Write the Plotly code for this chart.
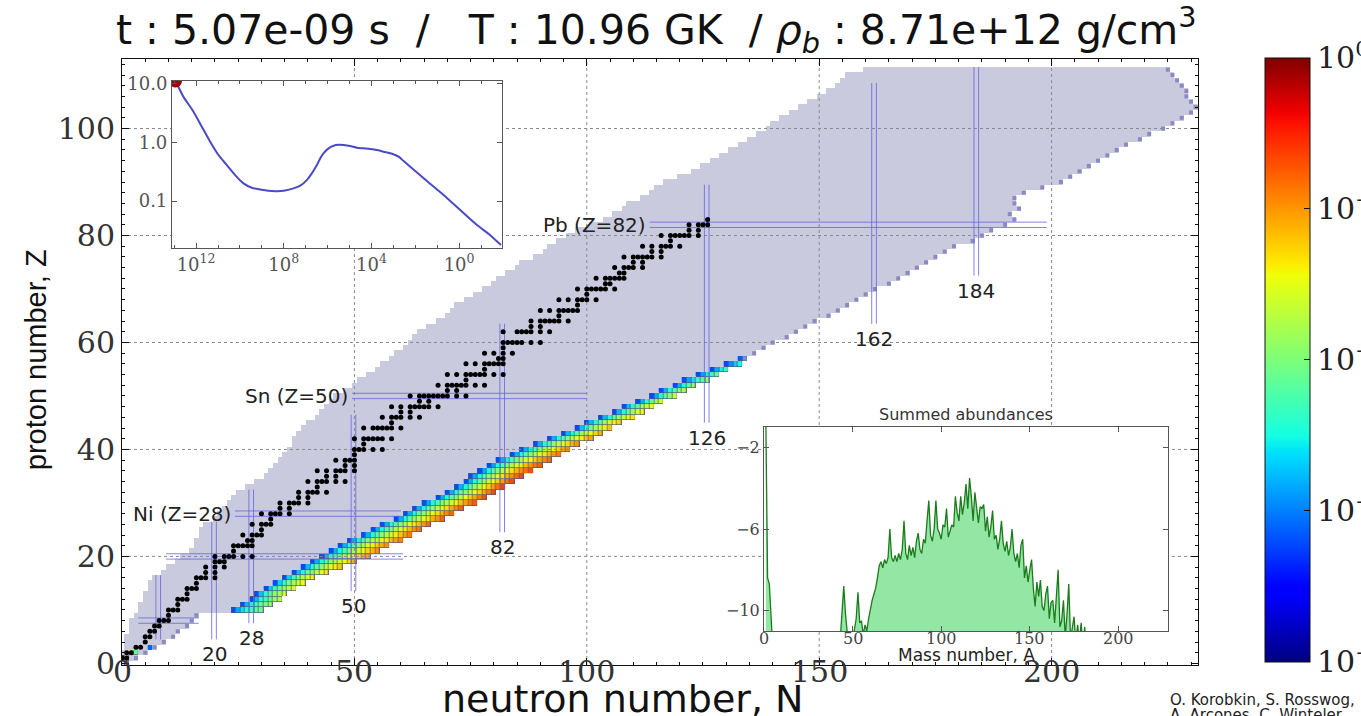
import numpy as np
import plotly.graph_objects as go

# ---------------- network extent on the nuclide chart (per proton number Z) ----------------
Z_ROWS = list(range(112))
N_MIN = [0, 0, 0, 1, 1, 1, 2, 2, 2, 3,
         4, 4, 5, 5, 6, 6, 7, 9, 10, 12,
         13, 15, 16, 16, 17, 17, 18, 20, 21, 22,
         23, 24, 25, 27, 29, 31, 32, 33, 34, 35,
         36, 37, 37, 38, 39, 40, 42, 43, 44, 45,
         46, 48, 50, 51, 53, 55, 56, 58, 59, 61,
         62, 63, 64, 66, 68, 70, 71, 72, 74, 76,
         78, 80, 81, 83, 85, 86, 89, 91, 92, 94,
         96, 98, 101, 104, 106, 108, 109, 112, 114, 115,
         117, 120, 123, 125, 127, 129, 131, 133, 135, 137,
         139, 140, 142, 144, 146, 148, 150, 152, 154, 155,
         156, 160]
N_MAX = [1, 3, 5, 7, 9, 11, 12, 14, 15, 16,
         30, 32, 34, 35, 37, 39, 41, 44, 47, 50,
         53, 55, 57, 60, 62, 64, 66, 69, 71, 73,
         76, 78, 80, 82, 84, 86, 88, 90, 92, 94,
         96, 98, 101, 103, 105, 107, 110, 112, 114, 116,
         119, 121, 123, 126, 128, 130, 133, 134, 136, 138,
         140, 143, 145, 147, 149, 152, 154, 156, 158, 160,
         162, 165, 167, 169, 171, 173, 175, 177, 179, 183,
         185, 187, 190, 192, 191, 193, 192, 192, 194, 198,
         202, 204, 206, 208, 210, 212, 214, 216, 219, 221,
         224, 226, 228, 230, 231, 230, 229, 229, 228, 227,
         226, 225]
# proton numbers whose neutron-rich edge is marked with a small square
DRIP_Z = [0, 1, 2, 3, 4, 5, 6, 7, 8, 9] + list(range(57, 112))

# ---------------- log10 abundance along each populated row: Z -> (first N, values) ----------------
ABUND_ROWS = {
    10: (24, [-9.6, -8.5, -7.8, -7.3, -6.9, -6.5, -6.2]),
    11: (26, [-9.6, -8.4, -7.6, -7.0, -6.5, -6.1, -5.7]),
    12: (28, [-9.6, -8.3, -7.4, -6.8, -6.2, -5.7, -5.3]),
    13: (29, [-9.6, -8.2, -7.2, -6.5, -5.9, -5.4, -4.9]),
    14: (31, [-9.6, -8.1, -7.1, -6.3, -5.7, -5.1, -4.6]),
    15: (33, [-9.6, -8.0, -7.0, -6.2, -5.5, -4.9, -4.4]),
    16: (35, [-9.6, -8.0, -6.9, -6.1, -5.4, -4.8, -4.2]),
    17: (37, [-9.6, -8.2, -7.2, -6.4, -5.7, -5.1, -4.5, -4.0]),
    18: (39, [-9.6, -8.3, -7.3, -6.5, -5.8, -5.2, -4.6, -4.1, -3.7]),
    19: (41, [-9.6, -8.4, -7.4, -6.6, -5.9, -5.3, -4.8, -4.3, -3.8, -3.4]),
    20: (43, [-9.6, -8.4, -7.5, -6.7, -6.0, -5.4, -4.9, -4.4, -3.9, -3.5, -3.1]),
    21: (45, [-9.6, -8.4, -7.5, -6.7, -6.0, -5.4, -4.8, -4.3, -3.8, -3.4, -3.0]),
    22: (47, [-9.6, -8.4, -7.4, -6.6, -5.9, -5.3, -4.7, -4.2, -3.7, -3.3, -2.9]),
    23: (49, [-9.6, -8.5, -7.6, -6.8, -6.1, -5.5, -5.0, -4.5, -4.0, -3.5, -3.1, -2.8]),
    24: (52, [-9.6, -8.4, -7.4, -6.6, -5.9, -5.3, -4.7, -4.1, -3.6, -3.1, -2.7]),
    25: (54, [-9.6, -8.4, -7.4, -6.6, -5.9, -5.3, -4.7, -4.1, -3.5, -3.0, -2.6]),
    26: (56, [-9.6, -8.4, -7.4, -6.6, -5.9, -5.2, -4.6, -4.0, -3.5, -3.0, -2.5]),
    27: (59, [-9.6, -8.4, -7.4, -6.6, -5.8, -5.2, -4.6, -4.0, -3.4, -2.9, -2.4]),
    28: (61, [-9.6, -8.4, -7.4, -6.5, -5.8, -5.1, -4.5, -3.9, -3.4, -2.8, -2.4]),
    29: (63, [-9.6, -8.4, -7.4, -6.5, -5.8, -5.1, -4.5, -3.9, -3.3, -2.8, -2.3]),
    30: (65, [-9.6, -8.5, -7.5, -6.7, -6.0, -5.4, -4.8, -4.2, -3.6, -3.1, -2.6, -2.2]),
    31: (68, [-9.6, -8.4, -7.4, -6.5, -5.8, -5.1, -4.4, -3.8, -3.2, -2.6, -2.1]),
    32: (70, [-9.6, -8.4, -7.4, -6.5, -5.8, -5.1, -4.4, -3.8, -3.2, -2.6, -2.0]),
    33: (72, [-9.6, -8.4, -7.4, -6.5, -5.7, -5.0, -4.4, -3.7, -3.1, -2.5, -1.9]),
    34: (74, [-9.6, -8.4, -7.4, -6.5, -5.7, -5.0, -4.3, -3.7, -3.1, -2.5, -2.0]),
    35: (75, [-9.6, -8.5, -7.5, -6.7, -5.9, -5.2, -4.6, -4.0, -3.4, -2.9, -2.4, -2.0]),
    36: (77, [-9.6, -8.5, -7.5, -6.7, -5.9, -5.2, -4.6, -4.0, -3.4, -2.9, -2.5, -2.1]),
    37: (79, [-9.6, -8.5, -7.5, -6.7, -6.0, -5.3, -4.7, -4.1, -3.5, -3.0, -2.6, -2.3]),
    38: (81, [-9.6, -8.5, -7.6, -6.8, -6.0, -5.4, -4.8, -4.2, -3.7, -3.2, -2.8, -2.5]),
    39: (84, [-9.6, -8.4, -7.4, -6.6, -5.9, -5.2, -4.6, -4.0, -3.5, -3.0, -2.7]),
    40: (86, [-9.6, -8.4, -7.5, -6.7, -6.0, -5.3, -4.7, -4.2, -3.7, -3.2, -2.9]),
    41: (89, [-9.6, -8.4, -7.4, -6.6, -5.8, -5.1, -4.5, -3.9, -3.4, -3.0]),
    42: (92, [-9.6, -8.4, -7.4, -6.6, -5.9, -5.2, -4.6, -4.1, -3.6, -3.2]),
    43: (95, [-9.6, -8.3, -7.3, -6.5, -5.7, -5.0, -4.4, -3.8, -3.4]),
    44: (98, [-9.6, -8.2, -7.2, -6.3, -5.5, -4.8, -4.2, -3.6]),
    45: (100, [-9.6, -8.3, -7.3, -6.4, -5.6, -4.9, -4.3, -3.8]),
    46: (103, [-9.6, -8.3, -7.3, -6.5, -5.7, -5.0, -4.5, -4.0]),
    47: (106, [-9.6, -8.3, -7.2, -6.3, -5.5, -4.8, -4.3]),
    48: (108, [-9.6, -8.3, -7.3, -6.4, -5.6, -5.0, -4.5]),
    49: (111, [-9.6, -8.3, -7.2, -6.3, -5.5, -4.8]),
    50: (114, [-9.6, -8.4, -7.4, -6.5, -5.7, -5.0]),
    51: (116, [-9.6, -8.4, -7.4, -6.6, -5.9, -5.3]),
    52: (119, [-9.6, -8.4, -7.4, -6.5, -5.7]),
    53: (121, [-9.6, -8.6, -7.8, -7.0, -6.4, -5.9]),
    54: (124, [-9.6, -8.6, -7.7, -7.0, -6.4]),
    55: (127, [-9.6, -8.5, -7.6, -6.9]),
    56: (130, [-9.6, -8.8, -8.1, -7.5]),
    57: (133, [-9.4, -8.6]),
}
# light nuclei (free nucleons and a few light species)
LIGHT_N = [1, 0, 1, 2, 3, 6]
LIGHT_Z = [0, 1, 1, 2, 2, 3]
LIGHT_LOGY = [-0.3, -0.8, -4.5, -5.5, -6.5, -9.3]

# ---------------- stable nuclides: Z -> neutron numbers ----------------
STABLE = {
    1: [0, 1], 2: [1, 2], 3: [3, 4], 4: [5], 5: [5, 6], 6: [6, 7], 7: [7, 8], 8: [8, 9, 10],
    9: [10], 10: [10, 11, 12], 11: [12], 12: [12, 13, 14], 13: [14], 14: [14, 15, 16],
    15: [16], 16: [16, 17, 18, 20], 17: [18, 20], 18: [18, 20, 22], 19: [20, 21, 22],
    20: [20, 22, 23, 24, 26, 28], 21: [24], 22: [24, 25, 26, 27, 28], 23: [27, 28],
    24: [26, 28, 29, 30], 25: [30], 26: [28, 30, 31, 32], 27: [32], 28: [30, 32, 33, 34, 36],
    29: [34, 36], 30: [34, 36, 37, 38, 40], 31: [38, 40], 32: [38, 40, 41, 42, 44], 33: [42],
    34: [40, 42, 43, 44, 46, 48], 35: [44, 46], 36: [42, 44, 46, 47, 48, 50], 37: [48, 50],
    38: [46, 48, 49, 50], 39: [50], 40: [50, 51, 52, 54, 56], 41: [52],
    42: [50, 52, 53, 54, 55, 56, 58], 44: [52, 54, 55, 56, 57, 58, 60], 45: [58],
    46: [56, 58, 59, 60, 62, 64], 47: [60, 62], 48: [58, 60, 62, 63, 64, 65, 66, 68],
    49: [64, 66], 50: [62, 64, 65, 66, 67, 68, 69, 70, 72, 74], 51: [70, 72],
    52: [68, 70, 71, 72, 73, 74, 76, 78], 53: [74], 54: [70, 72, 74, 75, 76, 77, 78, 80, 82],
    55: [78], 56: [74, 76, 78, 79, 80, 81, 82], 57: [81, 82], 58: [78, 80, 82, 84], 59: [82],
    60: [82, 83, 84, 85, 86, 88, 90], 62: [82, 85, 86, 87, 88, 90, 92], 63: [88, 90],
    64: [88, 90, 91, 92, 93, 94, 96], 65: [94], 66: [90, 92, 94, 95, 96, 97, 98], 67: [98],
    68: [94, 96, 98, 99, 100, 102], 69: [100], 70: [98, 100, 101, 102, 103, 104, 106],
    71: [104, 105], 72: [102, 104, 105, 106, 107, 108], 73: [107, 108],
    74: [106, 108, 109, 110, 112], 75: [110, 112], 76: [108, 110, 111, 112, 113, 114, 116],
    77: [114, 116], 78: [112, 114, 116, 117, 118, 120], 79: [118],
    80: [116, 118, 119, 120, 121, 122, 124], 81: [122, 124], 82: [122, 124, 125, 126], 83: [126],
}

# ---------------- magic numbers ----------------
MAGIC_N = [8, 20, 28, 50, 82, 126, 162, 184]
MAGIC_N_ZLO = [4.5, 4.5, 7.5, 13.5, 24.5, 45.0, 63.5, 72.5]
MAGIC_N_ZHI = [16.5, 26.5, 32.5, 46.5, 63.5, 89.5, 108.5, 111.5]
MAGIC_N_SHOWN = [False, True, True, True, True, True, True, True]
MAGIC_Z = [8, 20, 28, 50, 82]
MAGIC_Z_NLO = [3.5, 9.5, 24.3, 49.5, 113.5]
MAGIC_Z_NHI = [16.5, 60.5, 60.0, 100.0, 199.0]
MAGIC_Z_ELEMENT = [None, None, "Ni", "Sn", "Pb"]

# ---------------- thermodynamic trajectory (inset): log10 density, temperature [GK] ----------------
TRAJ_LOGRHO = [12.94, 12.58, 12.12, 11.74, 11.36, 10.98, 10.60, 10.22, 9.84, 9.46, 9.08,
               8.70, 8.32, 7.94, 7.56, 7.25, 6.95, 6.72, 6.49, 6.34, 6.19, 5.96, 5.73,
               5.50, 5.27, 4.97, 4.66, 4.36, 4.05, 3.75, 3.45, 3.06, 2.76, 2.53, 2.23,
               1.47, 0.71, -0.05, -0.82, -1.42, -1.91]
TRAJ_T = [10.96, 5.93, 3.30, 1.83, 1.02, 0.607, 0.410, 0.277, 0.200, 0.169, 0.158,
          0.150, 0.148, 0.152, 0.165, 0.183, 0.228, 0.296, 0.410, 0.532, 0.647, 0.787, 0.873,
          0.908, 0.896, 0.861, 0.807, 0.787, 0.768, 0.738, 0.691, 0.639, 0.568, 0.479, 0.384,
          0.219, 0.127, 0.0707, 0.0393, 0.0265, 0.0180]
NOW_LOGRHO = 12.94
NOW_T = 10.96

# ---------------- summed abundances vs mass number (log10 Y, -12 = off scale) ----------------
MASS_A = list(range(1, 229))
SUM_LOGY = (
    [-0.6, -8.4, -8.7, -10.9]
    + [-12.0] * 38
    + [-11.4, -10.1, -8.8, -10.2, -11.6, -12.0, -12.0, -11.4, -10.9, -10.4,       # 43-52
       -9.1, -10.6, -10.5, -11.2, -10.7, -11.0, -10.4, -9.9, -9.5, -9.2,          # 53-62
       -8.9, -8.4, -7.8, -7.6, -7.9, -7.5, -7.7, -7.4, -6.0, -7.4,                # 63-72
       -7.6, -7.3, -7.6, -7.2, -7.5, -7.0, -5.6, -7.2, -7.5, -6.8,                # 73-82
       -7.3, -6.9, -7.4, -6.6, -6.2, -7.0, -7.2, -6.5, -6.7, -5.6,                # 83-92
       -4.6, -6.3, -6.6, -6.0, -4.6, -6.0, -6.2, -6.5, -5.8, -5.9,                # 93-102
       -5.0, -6.4, -6.1, -5.8, -5.9, -4.4, -5.2, -5.6, -4.4, -5.3,                # 103-112
       -4.7, -3.8, -5.0, -3.5, -4.4, -5.6, -4.2, -5.0, -5.7, -4.9,                # 113-122
       -5.0, -4.8, -6.1, -5.4, -6.4, -5.9, -5.1, -6.5, -6.3, -7.0,                # 123-132
       -6.5, -5.6, -6.7, -7.1, -6.6, -7.3, -6.9, -6.0, -7.2, -7.6,                # 133-142
       -7.2, -7.9, -6.8, -6.5, -8.4, -7.8, -8.6, -8.0, -7.5, -8.9,                # 143-152
       -9.8, -8.6, -9.3, -8.5, -9.8, -10.0, -9.2, -8.8, -10.4, -9.6,              # 153-162
       -9.5, -10.6, -9.4, -8.0, -10.8, -10.5, -9.5, -11.3, -10.2, -8.7,           # 163-172
       -11.4, -10.9, -10.3, -11.6, -10.7, -11.5, -10.6, -11.8, -10.8]             # 173-181
    + [-12.0] * 47
)

# ---------------- axes ticks ----------------
X_TICKS = [0, 50, 100, 150, 200]
Y_TICKS = [0, 20, 40, 60, 80, 100]
CBAR_TICKS = [-12, -9, -6, -3, 0]
CBAR_TEXT = ["10<sup>\u221212</sup>", "10<sup>\u22129</sup>", "10<sup>\u22126</sup>",
             "10<sup>\u22123</sup>", "10<sup>0</sup>"]
CREDITS = ["O. Korobkin, S. Rosswog,", "A. Arcones, C. Winteler"]

N_AXIS = np.arange(0, 232)
Z_AXIS = np.arange(0, 112)

# matplotlib-style jet colormap
JET = [[0.0, "rgb(0,0,128)"], [0.11, "rgb(0,0,255)"], [0.125, "rgb(0,0,255)"],
       [0.34, "rgb(0,219,255)"], [0.35, "rgb(0,229,247)"], [0.375, "rgb(20,255,226)"],
       [0.5, "rgb(124,255,121)"], [0.64, "rgb(240,255,7)"], [0.66, "rgb(255,234,0)"],
       [0.75, "rgb(255,150,0)"], [0.89, "rgb(255,18,0)"], [0.91, "rgb(241,0,0)"],
       [1.0, "rgb(128,0,0)"]]

SERIF = "DejaVu Serif"
SANS = "DejaVu Sans"

# ---------------- grids built from the tables ----------------
network = np.full((len(Z_AXIS), len(N_AXIS)), np.nan)
for z, lo, hi in zip(Z_ROWS, N_MIN, N_MAX):
    network[z, lo:hi + 1] = 1.0

abund = np.full((len(Z_AXIS), len(N_AXIS)), np.nan)
for z, (n0, vals) in ABUND_ROWS.items():
    abund[z, n0:n0 + len(vals)] = vals
for n, z, v in zip(LIGHT_N, LIGHT_Z, LIGHT_LOGY):
    abund[z, n] = v
abund_cells = np.where(np.isnan(abund), np.nan, 1.0)

stable_n = [n for z, ns in STABLE.items() for n in ns]
stable_z = [z for z, ns in STABLE.items() for n in ns]

drip_n = [N_MAX[z] for z in DRIP_Z]

fig = go.Figure()

# network extent
fig.add_trace(go.Heatmap(
    x=N_AXIS, y=Z_AXIS, z=network, colorscale=[[0, "#cacade"], [1, "#cacade"]],
    showscale=False, hoverinfo="skip", xaxis="x", yaxis="y"))

# gridlines (drawn over the network region)
gx, gy = [], []
for t in X_TICKS[1:]:
    gx += [t, t, None]
    gy += [-0.3, 113, None]
for t in Y_TICKS[1:]:
    gx += [0, 231.5, None]
    gy += [t, t, None]
fig.add_trace(go.Scatter(x=gx, y=gy, mode="lines", line=dict(color="#8a8a8a", width=1, dash="dot"),
                         hoverinfo="skip", xaxis="x", yaxis="y"))

# thin dark cell outlines under the abundance cells
fig.add_trace(go.Heatmap(
    x=N_AXIS, y=Z_AXIS, z=abund_cells, colorscale=[[0, "#55557a"], [1, "#55557a"]],
    showscale=False, hoverinfo="skip", xaxis="x", yaxis="y"))

# abundances
fig.add_trace(go.Heatmap(
    x=N_AXIS, y=Z_AXIS, z=abund, colorscale=JET, zmin=-12, zmax=0, hoverinfo="skip",
    xgap=0.7, ygap=0.7, xaxis="x", yaxis="y",
    colorbar=dict(
        x=(1265 - 122) / 1076, xref="paper", xanchor="left", xpad=0,
        y=0.005, yref="paper", yanchor="bottom", ypad=0,
        len=0.9967, lenmode="fraction", thickness=45, thicknessmode="pixels",
        outlinewidth=1, outlinecolor="#111",
        tickmode="array", tickvals=CBAR_TICKS, ticktext=CBAR_TEXT,
        ticks="inside", ticklen=6, tickcolor="#111",
        tickfont=dict(family=SERIF, size=30, color="#222"),
    )))

# neutron-rich edge markers
fig.add_trace(go.Scatter(x=drip_n, y=DRIP_Z, mode="markers",
                         marker=dict(symbol="square", size=4, color="#8a8ac2"),
                         hoverinfo="skip", xaxis="x", yaxis="y"))

# magic number lines
mx, my = [], []
for m, lo, hi in zip(MAGIC_N, MAGIC_N_ZLO, MAGIC_N_ZHI):
    for off in (-0.7, 0.3):
        mx += [m + off, m + off, None]
        my += [lo, hi, None]
for m, lo, hi in zip(MAGIC_Z, MAGIC_Z_NLO, MAGIC_Z_NHI):
    for off in (-0.5, 0.5):
        mx += [lo, hi, None]
        my += [m + off, m + off, None]
fig.add_trace(go.Scatter(x=mx, y=my, mode="lines", line=dict(color="rgba(100,100,225,0.8)", width=1),
                         hoverinfo="skip", xaxis="x", yaxis="y"))

# stable nuclides
fig.add_trace(go.Scatter(x=stable_n, y=stable_z, mode="markers",
                         marker=dict(symbol="circle", size=5, color="#000000"),
                         hoverinfo="skip", xaxis="x", yaxis="y"))

# inset: temperature vs density trajectory
fig.add_trace(go.Scatter(x=[10 ** v for v in TRAJ_LOGRHO], y=TRAJ_T, mode="lines",
                         line=dict(color="#4a4ac8", width=2, shape="spline", smoothing=0.6),
                         hoverinfo="skip", xaxis="x2", yaxis="y2"))
fig.add_trace(go.Scatter(x=[10 ** NOW_LOGRHO], y=[NOW_T], mode="markers",
                         marker=dict(size=13, color="#a00000"),
                         hoverinfo="skip", xaxis="x2", yaxis="y2"))

# inset: summed abundances
fig.add_trace(go.Scatter(x=MASS_A, y=[-12.0] * len(MASS_A), mode="lines",
                         line=dict(width=0, color="rgba(0,0,0,0)"),
                         hoverinfo="skip", xaxis="x3", yaxis="y3"))
fig.add_trace(go.Scatter(x=MASS_A, y=SUM_LOGY, mode="lines", fill="tonexty",
                         fillcolor="#93e6a3", line=dict(color="#1c7c1c", width=1.3),
                         hoverinfo="skip", xaxis="x3", yaxis="y3"))

frame = dict(showline=True, linecolor="#111", linewidth=1, mirror="ticks",
             ticks="inside", tickcolor="#111", showgrid=False, zeroline=False)
inset_frame = dict(showline=True, linecolor="#555", linewidth=1.2, mirror="ticks",
                   ticks="inside", tickcolor="#555", ticklen=5, showgrid=False, zeroline=False)

fig.update_layout(
    width=1361, height=716,
    margin=dict(l=122, r=163, t=59, b=51, autoexpand=False),
    paper_bgcolor="white", plot_bgcolor="white", showlegend=False,
    title=dict(
        text=("t : 5.07e-09 s\u00a0\u00a0/\u00a0\u00a0\u00a0T : 10.96 GK\u00a0\u00a0/ "
              "<i>\u03c1<sub>b</sub></i> : 8.71e+12 g/cm<sup>3</sup>"),
        x=0.4965, xref="paper", xanchor="center", y=1 - 30 / 716, yref="container",
        yanchor="middle", font=dict(family=SANS, size=41, color="#111")),
    xaxis=dict(domain=[0, 1], range=[0, 231.5], tickvals=X_TICKS, ticklen=7,
               showticklabels=False,
               minor=dict(dtick=5, ticklen=3, ticks="inside", tickcolor="#111"), **frame),
    yaxis=dict(domain=[0, 1], range=[-0.3, 113], tickvals=Y_TICKS, ticklen=7,
               tickfont=dict(family=SERIF, size=30, color="#333"),
               minor=dict(dtick=2, ticklen=3, ticks="inside", tickcolor="#111"), **frame),
    xaxis2=dict(domain=[0.0465, 0.3532], anchor="y2", type="log", range=[13.1, -1.96],
                tickvals=[1e12, 1e8, 1e4, 1],
                ticktext=["10<sup>12</sup>", "10<sup>8</sup>", "10<sup>4</sup>", "10<sup>0</sup>"],
                tickfont=dict(family=SERIF, size=18, color="#555"),
                minor=dict(tickvals=[10.0 ** k for k in range(-1, 14)], ticklen=3,
                           ticks="inside", tickcolor="#555"), **inset_frame),
    yaxis2=dict(domain=[0.688, 0.9637], anchor="x2", type="log", range=[-1.796, 1.039],
                tickvals=[0.1, 1, 10], ticktext=["0.1", "1.0", "10.0"],
                tickfont=dict(family=SERIF, size=18, color="#555"), **inset_frame),
    xaxis3=dict(domain=[0.5967, 0.9721], anchor="y3", range=[0, 228],
                tickvals=[0, 50, 100, 150, 200], showticklabels=False, **inset_frame),
    yaxis3=dict(domain=[0.0561, 0.3927], anchor="x3", range=[-11, -1],
                tickvals=[-10, -6, -2], ticktext=["\u221210", "\u22126", "\u22122"],
                tickfont=dict(family=SERIF, size=16, color="#444"), **inset_frame),
)

annotations = [
    dict(text="neutron number, N", xref="paper", yref="paper", x=0.4656, y=-0.056,
         xanchor="center", yanchor="middle", showarrow=False,
         font=dict(family=SANS, size=38, color="#111")),
    dict(text="proton number, Z", xref="paper", yref="paper", x=-0.0799, y=0.503,
         xanchor="center", yanchor="middle", textangle=-90, showarrow=False,
         font=dict(family="Liberation Sans Narrow, Liberation Sans", size=29, color="#111")),
    dict(text="Summed abundances", xref="x3 domain", yref="y3 domain", x=0.5, y=1.0,
         xanchor="center", yanchor="bottom", yshift=1, showarrow=False,
         font=dict(family=SANS, size=16, color="#333")),
    dict(text="Mass number, A", xref="x3 domain", yref="y3 domain", x=0.5, y=-0.118,
         xanchor="center", yanchor="middle", showarrow=False,
         font=dict(family=SANS, size=17, color="#222")),
]
# inset mass-number tick labels, tucked under the inset frame
for t in [0, 50, 100, 150, 200]:
    annotations.append(dict(text=str(t), x=t, y=0, xref="x3", yref="y3 domain",
                            xanchor="center", yanchor="top", yshift=4, showarrow=False,
                            font=dict(family=SERIF, size=16, color="#444")))
# credits, one line each
for i, line in enumerate(CREDITS):
    annotations.append(dict(text=line, xref="paper", yref="paper", x=0.9721, y=-0.058,
                            xanchor="left", yanchor="middle", yshift=-15 * i, showarrow=False,
                            font=dict(family=SANS, size=15, color="#222")))
# main x tick labels, set just under the axis line
for t in X_TICKS:
    annotations.append(dict(text=str(t), x=t, y=0, xref="x", yref="paper",
                            xanchor="center", yanchor="top", yshift=13, showarrow=False,
                            font=dict(family=SERIF, size=30, color="#333")))
for m, lo, shown in zip(MAGIC_N, MAGIC_N_ZLO, MAGIC_N_SHOWN):
    if shown:
        annotations.append(dict(text=str(m), x=m - 0.2, y=lo, xref="x", yref="y",
                                xanchor="center", yanchor="top", yshift=-1, showarrow=False,
                                font=dict(family=SANS, size=20, color="#222")))
for m, lo, el in zip(MAGIC_Z, MAGIC_Z_NLO, MAGIC_Z_ELEMENT):
    if el:
        annotations.append(dict(text=f"{el} (Z={m})", x=lo, y=m, xref="x", yref="y",
                                xanchor="right", yanchor="middle", xshift=-2, showarrow=False,
                                font=dict(family=SANS, size=20, color="#222")))
fig.update_layout(annotations=annotations)

fig.write_html("out.html")
